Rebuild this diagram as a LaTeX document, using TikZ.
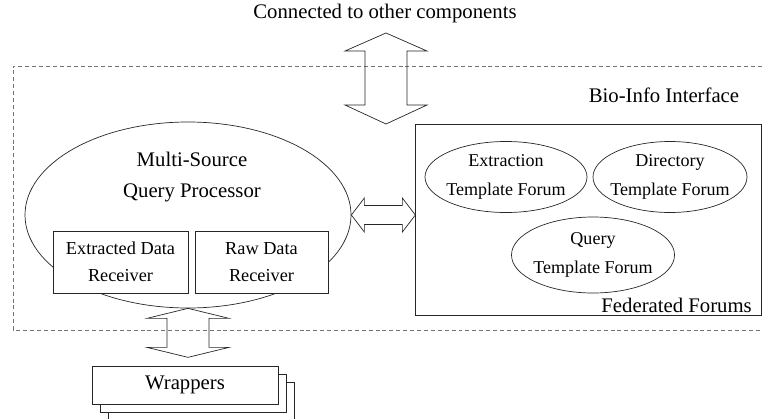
\documentclass[tikz,border=0pt]{standalone}
\usepackage{fontspec}
\setmainfont{Liberation Serif}
\usetikzlibrary{shapes.geometric}
\tikzstyle{outline} = [draw=black!85, line width=0.6pt]
\tikzstyle{boundary} = [draw=black!55, line width=0.6pt, dash pattern=on 3.4pt off 2.5pt]
\tikzstyle{procclass} = [ellipse, outline, minimum width=9.78cm, minimum height=5.58cm, inner sep=0pt]
\tikzstyle{forumclass} = [ellipse, outline, minimum height=2.13cm, inner sep=0pt]
\tikzstyle{forumtext} = [inner sep=0pt, align=center, font=\fontsize{15.4}{24}\selectfont]
\tikzstyle{receiverclass} = [rectangle, outline, fill=white, minimum height=1.86cm, inner sep=0pt, align=center, font=\fontsize{15.6}{23}\selectfont]
\tikzstyle{wrapperclass} = [rectangle, outline, fill=white, minimum width=5.58cm, minimum height=1.14cm, inner sep=0pt, font=\fontsize{17.7}{21}\selectfont]
\tikzstyle{caption} = [inner sep=0pt, align=center, font=\fontsize{17.7}{26}\selectfont]
\tikzstyle{fatarrow} = [outline, line join=miter]

\begin{document}
\begin{tikzpicture}[x=0.03cm, y=-0.03cm]
	\useasboundingbox (0,0) rectangle (762,418);
	% interface boundary, open on the right
	\draw[boundary] (762,66) -- (13,66) -- (13,330) -- (762,330);
	\node (conn) [caption] at (385,14) {Connected to other components};
	\node (bioinfo) [caption] at (664,95) {Bio-Info Interface};
	\coordinate (ctop) at (386,33);

	% query processor with its two receivers
	\node (mqp) [procclass] at (188,215) {};
	\node (mqptext) [caption] at (192,177) {Multi-Source\\Query Processor};
	\node (erecv) [receiverclass, minimum width=4.05cm] at (120.5,262) {Extracted Data\\Receiver};
	\node (rrecv) [receiverclass, minimum width=3.99cm] at (261.5,262) {Raw Data\\Receiver};

	% federated forums
	\node (fed) [rectangle, outline, minimum width=10.38cm, minimum height=5.73cm] at (588,219.5) {};
	\node (fedtext) [caption, anchor=base east] at (752,312) {Federated Forums};
	\node (etf) [forumclass, minimum width=4.86cm] at (506,177) {};
	\node (dtf) [forumclass, minimum width=4.62cm] at (670,177) {};
	\node (qtf) [forumclass, minimum width=4.89cm, minimum height=2.28cm] at (593,255) {};
	\node (etftext) [forumtext] at (etf) {Extraction\\Template Forum};
	\node (dtftext) [forumtext] at (dtf) {Directory\\Template Forum};
	\node (qtftext) [forumtext] at (qtf) {Query\\Template Forum};

	% stack of wrappers
	\node (wrap3) [wrapperclass] at (201,401) {};
	\node (wrap2) [wrapperclass] at (193,393) {};
	\node (wrap1) [wrapperclass] at (185,385) {Wrappers};

	% block arrows
	\draw[fatarrow] (ctop) -- ++(41,18) -- ++(-20,0) -- ++(0,54) -- ++(20,0) -- ++(-41,19)
		-- ++(-41,-19) -- ++(20,0) -- ++(0,-54) -- ++(-20,0) -- cycle;
	\draw[fatarrow] (mqp.south) -- ++(41,10) -- ++(-20,0) -- ++(0,29) -- ++(20,0) -- ++(-41,10)
		-- ++(-41,-10) -- ++(20,0) -- ++(0,-29) -- ++(-20,0) -- cycle;
	\draw[fatarrow] (mqp.east) -- ++(13,-17) -- ++(0,7.5) -- ++(38,0) -- ++(0,-7.5) -- ++(13,17)
		-- ++(-13,17) -- ++(0,-7.5) -- ++(-38,0) -- ++(0,7.5) -- cycle;
\end{tikzpicture}
\end{document}
